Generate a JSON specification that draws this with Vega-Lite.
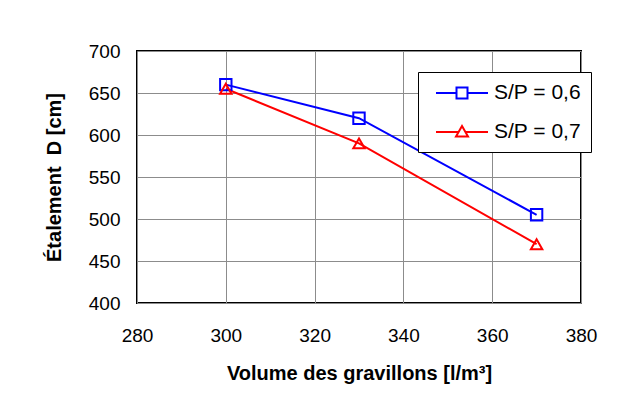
{
  "$schema": "https://vega.github.io/schema/vega-lite/v6.json",
  "width": 444,
  "height": 252,
  "autosize": {"type": "none"},
  "padding": {"left": 137, "top": 51, "right": 43, "bottom": 104},
  "background": "white",
  "config": {
    "font": "Liberation Sans",
    "view": {"stroke": "black", "strokeWidth": 2},
    "axis": {
      "grid": true,
      "gridColor": "#8c8c8c",
      "gridWidth": 1,
      "domain": false,
      "ticks": false,
      "labelFont": "Liberation Sans",
      "labelFontSize": 19,
      "labelColor": "black",
      "titleFont": "Liberation Sans",
      "titleFontSize": 20,
      "titleFontWeight": "bold",
      "titleColor": "black"
    }
  },
  "data": {
    "values": [
      {"volume": 300, "etalement": 660, "serie": "S/P = 0,6"},
      {"volume": 330, "etalement": 620, "serie": "S/P = 0,6"},
      {"volume": 370, "etalement": 505, "serie": "S/P = 0,6"},
      {"volume": 300, "etalement": 655, "serie": "S/P = 0,7"},
      {"volume": 330, "etalement": 590, "serie": "S/P = 0,7"},
      {"volume": 370, "etalement": 470, "serie": "S/P = 0,7"}
    ]
  },
  "encoding": {
    "x": {
      "field": "volume",
      "type": "quantitative",
      "scale": {"domain": [280, 380], "nice": false, "zero": false},
      "axis": {"values": [280, 300, 320, 340, 360, 380], "labelPadding": 23, "titlePadding": 18, "title": "Volume des gravillons [l/m³]", "labelFlush": false}
    },
    "y": {
      "field": "etalement",
      "type": "quantitative",
      "scale": {"domain": [400, 700], "nice": false, "zero": false},
      "axis": {"values": [400, 450, 500, 550, 600, 650, 700], "labelPadding": 17, "titlePadding": 24, "title": "Étalement\u00a0 D [cm]", "labelFlush": false}
    },
    "color": {
      "field": "serie",
      "type": "nominal",
      "scale": {"domain": ["S/P = 0,6", "S/P = 0,7"], "range": ["#0000ff", "#ff0000"]},
      "legend": {
        "title": null,
        "orient": "none",
        "legendX": 281,
        "legendY": 21,
        "padding": 10,
        "strokeColor": "black",
        "fillColor": "white",
        "labelFontSize": 21,
        "labelColor": "black",
        "labelFont": "Liberation Sans",
        "symbolSize": 400,
        "symbolStrokeWidth": 2,
        "symbolFillColor": "transparent",
        "labelOffset": 44,
        "rowPadding": 18,
        "symbolType": {"expr": "datum.value === 'S/P = 0,6' ? 'M-0.3,0H1.75M2.85,0H4.9M1.75,-0.55H2.85V0.55H1.75Z' : 'M-0.3,0H1.96M2.64,0H4.9M2.3,-0.6L2.9,0.45H1.7Z'"}
      }
    }
  },
  "layer": [
    {
      "mark": {"type": "line", "strokeWidth": 2}
    },
    {
      "mark": {"type": "point", "filled": false, "strokeWidth": 2, "size": 130, "opacity": 1},
      "encoding": {
        "shape": {
          "condition": {"test": "datum.serie === 'S/P = 0,6'", "value": "square"},
          "value": "triangle-up"
        }
      }
    }
  ]
}
